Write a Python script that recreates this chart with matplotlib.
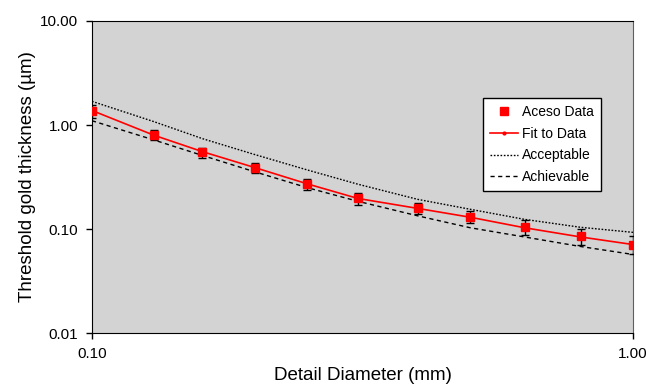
import matplotlib
matplotlib.use('Agg')
import matplotlib.pyplot as plt
from matplotlib.ticker import FixedLocator, FixedFormatter, NullLocator

plt.rcParams['font.family'] = ['Liberation Sans', 'DejaVu Sans']

# Data
diameter = [0.10, 0.13, 0.16, 0.20, 0.25, 0.31, 0.40, 0.50, 0.63, 0.80, 1.00]
aceso = [1.355, 0.81, 0.547, 0.39, 0.27, 0.197, 0.16, 0.132, 0.104, 0.085, 0.071]
aceso_err = [0.19, 0.09, 0.06, 0.045, 0.03, 0.027, 0.019, 0.017, 0.017, 0.015, 0.014]
fit = [1.38, 0.80, 0.555, 0.39, 0.272, 0.197, 0.158, 0.13, 0.103, 0.084, 0.071]
acceptable = [1.69, 1.08, 0.74, 0.52, 0.37, 0.27, 0.193, 0.155, 0.124, 0.104, 0.093]
achievable = [1.10, 0.72, 0.51, 0.355, 0.25, 0.185, 0.134, 0.103, 0.084, 0.068, 0.057]

yticks = [0.01, 0.1, 1, 10]
ytick_labels = ['0.01', '0.10', '1.00', '10.00']
xticks = [0.1, 1.0]
xtick_labels = ['0.10', '1.00']

fig = plt.figure(figsize=(6.46, 3.86), dpi=100)
ax = fig.add_axes([0.1424, 0.137, 0.8376, 0.8086])
ax.set_facecolor('#d3d3d3')

ax.errorbar(diameter, aceso, yerr=aceso_err, fmt='none', ecolor='black',
            elinewidth=1, capsize=3, capthick=1, zorder=3)
ax.plot(diameter, aceso, 's', color='red', markersize=5.5, zorder=4, label='Aceso Data')
ax.plot(diameter, fit, '-', color='red', linewidth=1.2, marker='.', markersize=4,
        zorder=2, label='Fit to Data')
ax.plot(diameter, acceptable, linestyle=(0, (1.2, 1.2)), color='black', linewidth=1,
        zorder=2, label='Acceptable')
ax.plot(diameter, achievable, linestyle=(0, (3, 2.5)), color='black', linewidth=1,
        zorder=2, label='Achievable')

ax.set_xscale('log')
ax.set_yscale('log')
ax.set_xlim(0.1, 1.0)
ax.set_ylim(0.01, 10)
ax.xaxis.set_major_locator(FixedLocator(xticks))
ax.xaxis.set_major_formatter(FixedFormatter(xtick_labels))
ax.xaxis.set_minor_locator(NullLocator())
ax.yaxis.set_major_locator(FixedLocator(yticks))
ax.yaxis.set_major_formatter(FixedFormatter(ytick_labels))
ax.yaxis.set_minor_locator(NullLocator())
ax.tick_params(direction='out', length=4, width=1, labelsize=11, colors='black', pad=6)

for s in ['left', 'bottom', 'top']:
    ax.spines[s].set_color('black')
ax.spines['right'].set_color('#606060')

ax.set_xlabel('Detail Diameter (mm)', fontsize=13.5, labelpad=4)
ax.set_ylabel('Threshold gold thickness (µm)', fontsize=13.5, labelpad=3)

leg = ax.legend(loc='upper left', bbox_to_anchor=(0.71, 0.775), fontsize=10,
                frameon=True, fancybox=False, edgecolor='black', framealpha=1,
                borderpad=0.5, labelspacing=0.55, handlelength=2.0, handletextpad=0.3)
leg.get_frame().set_linewidth(1)

fig.savefig('out.png', dpi=100)
